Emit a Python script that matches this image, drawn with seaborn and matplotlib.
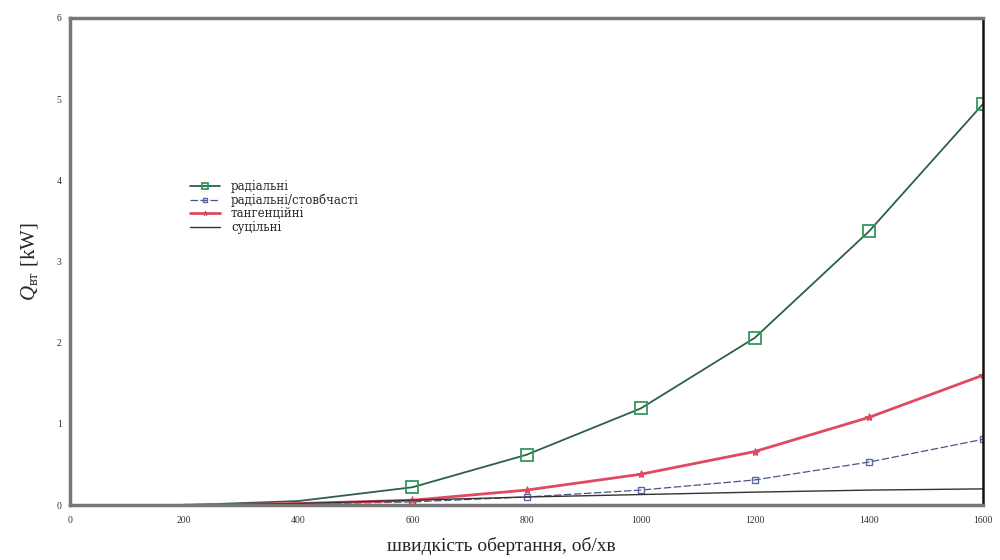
import matplotlib
matplotlib.use("Agg")
import matplotlib.pyplot as plt
import seaborn as sns
import pandas as pd

sns.set_style("white")
plt.rcParams["font.family"] = ["Liberation Serif", "DejaVu Serif"]
plt.rcParams["mathtext.fontset"] = "custom"
plt.rcParams["mathtext.rm"] = "Liberation Serif"
plt.rcParams["mathtext.it"] = "Liberation Serif:italic"

# rotation speed, rpm
speed = [200, 400, 600, 800, 1000, 1200, 1400, 1600]

# power losses, kW
radial = [0.0, 0.05, 0.22, 0.62, 1.19, 2.06, 3.37, 4.94]
radial_columnar = [0.0, 0.01, 0.04, 0.10, 0.185, 0.31, 0.53, 0.81]
tangential = [0.0, 0.02, 0.06, 0.185, 0.38, 0.66, 1.08, 1.60]
solid = [0.0, 0.02, 0.06, 0.10, 0.13, 0.16, 0.185, 0.20]

labels = ["радіальні", "радіальні/стовбчасті", "тангенційні", "суцільні"]
series = [radial, radial_columnar, tangential, solid]

x_ticks = [0, 200, 400, 600, 800, 1000, 1200, 1400, 1600]
y_ticks = [0, 1, 2, 3, 4, 5, 6]

styles = [
    dict(color="#2f5f48", lw=1.3, marker="s", ms=8, mfc="none", mec="#2f9a5e", mew=1.3, ls="-"),
    dict(color="#4a5680", lw=0.9, marker="s", ms=5, mfc="none", mec="#5a6aa8", mew=1.0, ls=(0, (6, 2))),
    dict(color="#e04a60", lw=2.0, marker="*", ms=6, mfc="#e04a60", mec="#e04a60", ls="-"),
    dict(color="#333333", lw=1.0, marker=None, ls="-"),
]

fig = plt.figure(figsize=(10, 5.6), dpi=100)
ax = fig.add_axes([0.07, 0.098, 0.913, 0.87])

for lab, vals, st in zip(labels, series, styles):
    df = pd.DataFrame({"x": speed, "y": vals})
    kw = dict(st)
    if kw.get("marker"):
        kw["markevery"] = slice(2, None)
    sns.lineplot(data=df, x="x", y="y", ax=ax, label=lab, **kw)

ax.set_xlim(0, 1600)
ax.set_ylim(0, 6)
ax.set_xticks(x_ticks)
ax.set_yticks(y_ticks)
ax.tick_params(axis="both", labelsize=7, length=3, width=1, direction="out",
               colors="#333333")
ax.tick_params(axis="x", pad=5)
ax.tick_params(axis="y", pad=3)

for side in ["left", "bottom", "top"]:
    ax.spines[side].set_color("#777777")
    ax.spines[side].set_linewidth(2.5)
ax.spines["right"].set_color("#111111")
ax.spines["right"].set_linewidth(1.8)

ax.set_xlabel("швидкість обертання, об/хв", fontsize=14, labelpad=10)
ax.xaxis.set_label_coords(0.472, -0.066)
ax.set_ylabel(r"$Q_{\mathrm{вт}}$ [kW]", fontsize=15, labelpad=12)

leg = ax.legend(loc="upper left", bbox_to_anchor=(0.131, 0.667), frameon=False,
                borderaxespad=0, borderpad=0,
                prop={"family": "DejaVu Serif", "size": 8.5},
                handlelength=2.6, labelspacing=0.03, handletextpad=0.9,
                markerscale=0.6)

fig.savefig("out.png", dpi=100)
